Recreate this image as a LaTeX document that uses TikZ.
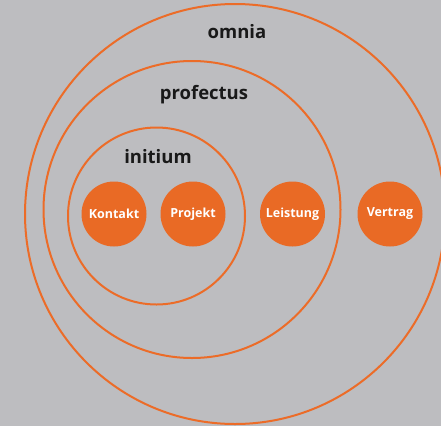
\documentclass[tikz,border=0pt]{standalone}
\usepackage{fontspec}
\setmainfont{Open Sans}
\definecolor{bg}{RGB}{189,189,192}
\definecolor{org}{RGB}{233,106,37}
\definecolor{ring}{RGB}{236,108,40}
\definecolor{txt}{RGB}{25,25,25}
\begin{document}
\begin{tikzpicture}[x=1pt,y=-1pt,
  ringc/.style={circle,draw=ring,line width=2pt,inner sep=0pt},
  dot/.style={circle,fill=org,minimum size=65pt,inner sep=0pt,text=white,font=\bfseries\fontsize{12.5}{13}\selectfont},
  lbl/.style={text=txt,font=\bfseries\fontsize{18.5}{19}\selectfont}]
\fill[bg] (0,0) rectangle (441,426);
\useasboundingbox (0,0) rectangle (441,426);
\node[ringc,minimum size=420pt] (omnia) at (235,214) {};
\node[ringc,minimum size=297pt] (profectus) at (192,209.5) {};
\node[ringc,minimum size=177pt] (initium) at (156.5,216) {};
\node[lbl] (lomnia) at (237,32) {omnia};
\node[lbl] (lprofectus) at (204,95) {profectus};
\node[lbl] (linitium) at (158,157) {initium};
\node[dot] (kontakt) at (114,214) {Kontakt};
\node[dot] (projekt) at (193,214) {Projekt};
\node[dot] (leistung) at (292.5,214) {Leistung};
\node[dot] (vertrag) at (390,214) {Vertrag};
\end{tikzpicture}
\end{document}
